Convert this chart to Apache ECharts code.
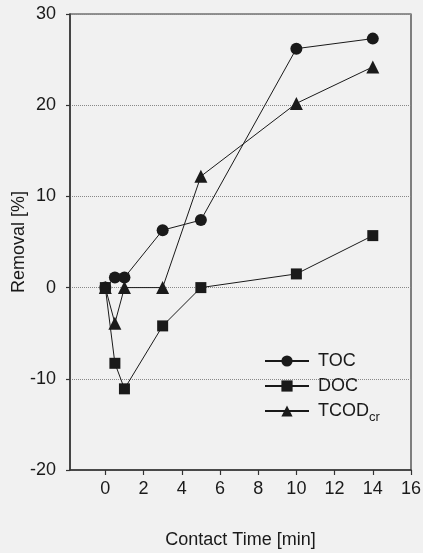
<!DOCTYPE html>
<html>
<head>
<meta charset="utf-8">
<script src="https://cdn.jsdelivr.net/npm/echarts@6/dist/echarts.min.js"></script>
<style>
html,body{margin:0;padding:0;background:#f1f1f1;}
#c{width:423px;height:553px;}
</style>
</head>
<body>
<div id="c"></div>
<script>
var times = [0, 0.5, 1, 3, 5, 10, 14];
var tocValues = [0, 1.1, 1.1, 6.3, 7.4, 26.2, 27.3];
var docValues = [0, -8.3, -11.1, -4.2, 0, 1.5, 5.7];
var tcodValues = [0, -3.9, 0, 0, 12.2, 20.2, 24.2];
var xTicks = [0, 2, 4, 6, 8, 10, 12, 14, 16];
var seriesNames = ['TOC', 'DOC', 'TCODcr'];

function pairs(xs, ys){ return xs.map(function(x,i){ return [x, ys[i]]; }); }

var ink = '#1a1a1a';
var font = 'Liberation Sans';
var chart = echarts.init(document.getElementById('c'), null, {renderer:'canvas'});
function mk(name, vals, symbol, size){
  return {
    name: name, type: 'line', data: pairs(times, vals),
    symbol: symbol, symbolSize: size,
    lineStyle: {color: ink, width: 1},
    itemStyle: {color: ink, borderColor: ink, borderWidth: 0},
    emphasis: {disabled: true}, animation: false
  };
}
chart.setOption({
  backgroundColor: '#f1f1f1',
  animation: false,
  grid: {left: 70, top: 14, right: 12, bottom: 83, containLabel: false, outerBoundsMode: 'none',
    show: true, borderColor: '#333', borderWidth: 1.2, backgroundColor: 'transparent'},
  legend: {
    orient: 'vertical', left: 259, top: 347, itemWidth: 44, itemHeight: 14, itemGap: 7,
    data: seriesNames,
    textStyle: {fontSize: 18, lineHeight: 18, color: ink, fontFamily: font, padding: [0,0,0,4],
      rich: {sub: {fontSize: 13, color: ink, fontFamily: font, padding: [12,0,0,0]}}},
    formatter: function(n){ return n === 'TCODcr' ? 'TCOD{sub|cr}' : n; }
  },
  xAxis: {
    type: 'value', min: -1.85, max: 16,
    name: 'Contact Time [min]', nameLocation: 'middle', nameGap: 61, nameMoveOverlap: false,
    nameTextStyle: {fontSize: 18, color: ink, fontFamily: font},
    axisLine: {onZero: false, lineStyle: {color: '#333', width: 1.5}},
    axisTick: {show: true, inside: false, length: 5, customValues: xTicks, lineStyle: {color: '#333', width: 1.2}},
    axisLabel: {customValues: xTicks, fontSize: 18, color: ink, margin: 10, fontFamily: font},
    splitLine: {show: false}
  },
  yAxis: {
    type: 'value', min: -20, max: 30, interval: 10,
    name: 'Removal [%]', nameLocation: 'middle', nameGap: 42, nameRotate: 90, nameMoveOverlap: false,
    nameTextStyle: {fontSize: 18, color: ink, fontFamily: font},
    axisLine: {show: true, onZero: false, lineStyle: {color: '#333', width: 1.5}},
    axisTick: {show: true, inside: false, length: 4, lineStyle: {color: '#333', width: 1.2}},
    axisLabel: {fontSize: 18, color: ink, margin: 14, fontFamily: font},
    splitLine: {show: true, lineStyle: {color: '#888', type: 'dotted', width: 1}}
  },
  series: [
    mk('TOC', tocValues, 'circle', 12),
    mk('DOC', docValues, 'rect', 11),
    mk('TCODcr', tcodValues, 'triangle', 13)
  ]
});
</script>
</body>
</html>
